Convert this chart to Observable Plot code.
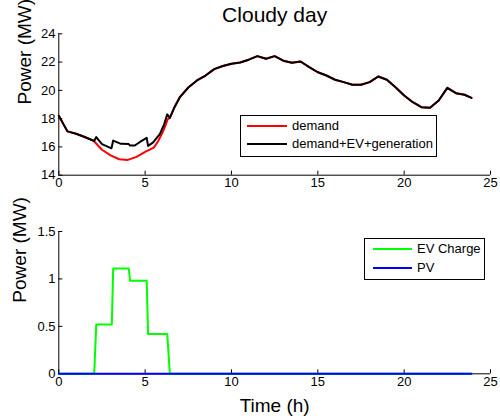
<!DOCTYPE html>
<html><head><meta charset="utf-8">
<script src="https://cdn.jsdelivr.net/npm/d3@7"></script>
<script src="https://cdn.jsdelivr.net/npm/@observablehq/plot@0.6"></script>
<style>
body{margin:0;background:#fff;font-family:"Liberation Sans",Arial,sans-serif;}
#fig{position:relative;width:500px;height:419px;overflow:hidden;background:#fff;}
#fig svg{position:absolute;left:0;overflow:visible;}
.legend{position:absolute;border:1px solid #000;background:#fff;font-size:13px;color:#000;box-sizing:border-box;}
.legend .txt{position:absolute;height:16px;line-height:16px;white-space:nowrap;}
.legend .sw{position:absolute;height:2px;}
</style></head><body><div id="fig"></div>
<script>
const titleText = "Cloudy day";
const yLabel = "Power (MW)";
const xLabel = "Time (h)";
const xTicks = [0, 5, 10, 15, 20, 25];
const topYTicks = [14, 16, 18, 20, 22, 24];
const bottomYTicks = [0, 0.5, 1, 1.5];

const demandTime = [0,0.5,1,1.5,2,2.5,3,3.5,4,4.5,5,5.5,5.75,6,6.2,6.3,6.43,6.7,7,7.5,8,8.5,9,9.5,10,10.5,11,11.5,12,12.5,13,13.5,14,14.5,15,15.5,16,16.5,17,17.5,18,18.5,19,19.5,20,20.5,21,21.5,22,22.5,23,23.5,23.9];
const demandValues = [18.2,17.1,16.93,16.7,16.45,15.8,15.4,15.13,15.08,15.3,15.65,15.95,16.4,17.0,17.6,17.95,18.05,18.81,19.5,20.2,20.7,21.05,21.5,21.72,21.88,21.97,22.17,22.42,22.23,22.42,22.1,21.95,22.04,21.64,21.28,21.05,20.75,20.58,20.4,20.4,20.58,20.98,20.75,20.22,19.64,19.16,18.81,18.77,19.28,20.18,19.8,19.69,19.47];

const totalTime = [0,0.5,1,1.5,2.05,2.17,2.5,3.05,3.15,3.6,4.05,4.13,4.4,4.7,5.09,5.17,5.45,5.85,6.1,6.28,6.43,6.7,7,7.5,8,8.5,9,9.5,10,10.5,11,11.5,12,12.5,13,13.5,14,14.5,15,15.5,16,16.5,17,17.5,18,18.5,19,19.5,20,20.5,21,21.5,22,22.5,23,23.5,23.9];
const totalValues = [18.2,17.1,16.93,16.7,16.42,16.7,16.2,15.9,16.45,16.22,16.2,16.1,16.1,16.35,16.64,16.07,16.3,16.9,17.6,18.3,18.05,18.81,19.5,20.2,20.7,21.05,21.5,21.72,21.88,21.97,22.17,22.42,22.23,22.42,22.1,21.95,22.04,21.64,21.28,21.05,20.75,20.58,20.4,20.4,20.58,20.98,20.75,20.22,19.64,19.16,18.81,18.77,19.28,20.18,19.8,19.69,19.47];

const evTime = [0,2.05,2.17,3.07,3.15,4.05,4.13,5.09,5.17,6.28,6.43,23.9];
const evValues = [0,0,0.52,0.52,1.11,1.11,0.98,0.98,0.42,0.42,0,0];
const pvTime = [0,23.9];
const pvValues = [0,0];

const topLegend = ["demand", "demand+EV+generation"];
const topColors = ["#ff0000", "#000000"];
const bottomLegend = ["EV Charge", "PV"];
const bottomColors = ["#00ff00", "#0000ff"];

const pts = (ts, vs) => ts.map((t, i) => ({t, v: vs[i]}));
const font = {fontFamily: "'Liberation Sans', Arial, sans-serif", fontSize: "13px", color: "#000", background: "transparent", overflow: "visible"};
const fig = document.getElementById("fig");

const topPlot = Plot.plot({
  width: 500, height: 195,
  marginTop: 33.3, marginBottom: 20.3, marginLeft: 58.3, marginRight: 10,
  style: font,
  x: {domain: [0, 25]},
  y: {domain: [14, 24]},
  marks: [
    Plot.ruleX([0], {stroke: "#000"}),
    Plot.ruleY([14], {stroke: "#000"}),
    Plot.axisX({ticks: xTicks, tickSize: -4, tickPadding: 7, label: null, tickFormat: d => String(d)}),
    Plot.axisY({ticks: topYTicks, tickSize: -4, tickPadding: 7.3, label: null, tickFormat: d => String(d)}),
    Plot.line(pts(demandTime, demandValues), {x: "t", y: "v", stroke: topColors[0], strokeWidth: 2}),
    Plot.line(pts(totalTime, totalValues), {x: "t", y: "v", stroke: topColors[1], strokeWidth: 2}),
    Plot.text([titleText], {frameAnchor: "top", lineAnchor: "bottom", dy: -11.6, fontSize: 21}),
    Plot.text([yLabel], {frameAnchor: "left", rotate: -90, dx: -34, lineAnchor: "middle", fontSize: 19})
  ]
});
topPlot.style.top = "0px";
fig.appendChild(topPlot);

const bottomPlot = Plot.plot({
  width: 500, height: 224,
  marginTop: 36, marginBottom: 45.7, marginLeft: 58.3, marginRight: 10,
  style: font,
  x: {domain: [0, 25]},
  y: {domain: [0, 1.5]},
  marks: [
    Plot.ruleX([0], {stroke: "#000"}),
    Plot.ruleY([0], {stroke: "#000"}),
    Plot.axisX({ticks: xTicks, tickSize: -4, tickPadding: 7, label: null, tickFormat: d => String(d)}),
    Plot.axisY({ticks: bottomYTicks, tickSize: -4, tickPadding: 7.3, label: null, tickFormat: d => String(d)}),
    Plot.line(pts(evTime, evValues), {x: "t", y: "v", stroke: bottomColors[0], strokeWidth: 2}),
    Plot.line(pts(pvTime, pvValues), {x: "t", y: "v", stroke: bottomColors[1], strokeWidth: 2}),
    Plot.text([yLabel], {frameAnchor: "left", rotate: -90, dx: -39.3, lineAnchor: "middle", fontSize: 19}),
    Plot.text([xLabel], {frameAnchor: "bottom", lineAnchor: "bottom", dy: 37.7, fontSize: 19})
  ]
});
bottomPlot.style.top = "195px";
fig.appendChild(bottomPlot);

function legend(names, colors, box) {
  const div = document.createElement("div");
  div.className = "legend";
  Object.assign(div.style, {left: box.left + "px", top: box.top + "px", width: box.width + "px", height: box.height + "px"});
  names.forEach((name, i) => {
    const cy = box.rows[i];
    const sw = document.createElement("div");
    sw.className = "sw";
    Object.assign(sw.style, {left: box.swX + "px", width: box.swW + "px", top: (cy - 1) + "px", background: colors[i]});
    const tx = document.createElement("div");
    tx.className = "txt";
    Object.assign(tx.style, {left: box.txX + "px", top: (cy - 8) + "px"});
    tx.textContent = name;
    div.appendChild(sw);
    div.appendChild(tx);
  });
  fig.appendChild(div);
}
legend(topLegend, topColors, {left: 240, top: 115, width: 197, height: 42, rows: [10, 28.3], swX: 6, swW: 40, txX: 51});
legend(bottomLegend, bottomColors, {left: 364, top: 238, width: 121, height: 42, rows: [10.3, 28.7], swX: 8, swW: 39, txX: 52});
</script></body></html>
